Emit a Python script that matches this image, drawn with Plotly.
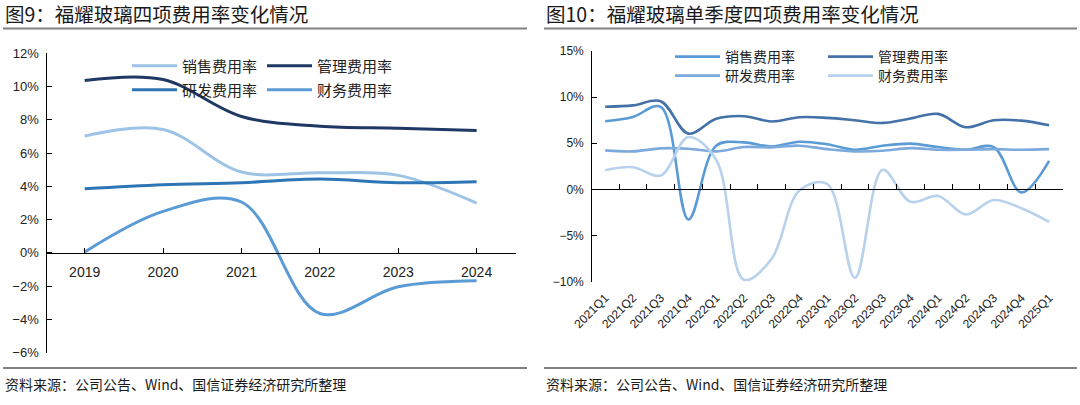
import plotly.graph_objects as go

# ---------------- data ----------------
years = ["2019", "2020", "2021", "2022", "2023", "2024"]
a_sales = [7.02, 7.42, 4.86, 4.82, 4.66, 3.00]
a_admin = [10.36, 10.42, 8.20, 7.62, 7.50, 7.36]
a_rd = [3.86, 4.10, 4.22, 4.44, 4.22, 4.28]
a_fin = [0.06, 2.50, 3.06, -3.64, -2.04, -1.68]

quarters = ["2021Q1", "2021Q2", "2021Q3", "2021Q4", "2022Q1", "2022Q2", "2022Q3",
            "2022Q4", "2023Q1", "2023Q2", "2023Q3", "2023Q4", "2024Q1", "2024Q2",
            "2024Q3", "2024Q4", "2025Q1"]
q_sales = [7.38, 7.85, 8.95, -3.27, 4.73, 5.09, 4.65, 5.16, 4.88, 4.29, 4.73, 4.95,
           4.58, 4.29, 4.58, -0.33, 3.09]
q_admin = [8.95, 9.10, 9.56, 6.04, 7.64, 7.93, 7.35, 7.82, 7.75, 7.49, 7.20, 7.67,
           8.18, 6.73, 7.49, 7.45, 6.95]
q_rd = [4.22, 4.11, 4.44, 4.40, 4.11, 4.58, 4.55, 4.73, 4.36, 4.11, 4.18, 4.47,
        4.29, 4.29, 4.36, 4.29, 4.36]
q_fin = [2.07, 2.40, 1.49, 5.67, 3.20, -9.82, -7.53, -0.12, 0.58, -9.60, 2.11, -1.35,
         -0.73, -2.73, -1.16, -2.05, -3.53]

names = ["销售费用率", "管理费用率", "研发费用率", "财务费用率"]
title_left = "图9：福耀玻璃四项费用率变化情况"
title_right = "图10：福耀玻璃单季度四项费用率变化情况"
source = "资料来源：公司公告、Wind、国信证券经济研究所整理"

# ---------------- styling ----------------
W, H = 1080, 405
def px(x):
    return x / W
def py(y):
    return 1 - y / H

CJK = "Noto Sans CJK SC"
NUM = "Liberation Sans"
left_colors = ["#9DC3E6", "#1F3864", "#2E75B6", "#5B9BD5"]
right_colors = ["#5B9BD5", "#4472A8", "#7DAADC", "#B8D1EC"]

fig = go.Figure()

left_series = [a_sales, a_admin, a_rd, a_fin]
right_series = [q_sales, q_admin, q_rd, q_fin]

# legend positions: (line start x, row y)
left_leg_pos = [(133, 66), (268, 66), (133, 90), (268, 90)]
right_leg_pos = [(676, 57), (829, 57), (676, 76), (829, 76)]

for i, (vals, col) in enumerate(zip(left_series, left_colors)):
    fig.add_trace(go.Scatter(x=years, y=vals, name=names[i], mode="lines",
                             line=dict(color=col, width=3, shape="spline", smoothing=1.0),
                             xaxis="x", yaxis="y", legend=f"legend{i+1}" if i else "legend"))
for i, (vals, col) in enumerate(zip(right_series, right_colors)):
    fig.add_trace(go.Scatter(x=quarters, y=vals, name=names[i], mode="lines",
                             line=dict(color=col, width=2.6, shape="spline", smoothing=1.0),
                             xaxis="x2", yaxis="y2", legend=f"legend{i+5}"))
# carrier for the lower category labels of the right chart
fig.add_trace(go.Scatter(x=quarters, y=q_rd, mode="markers", marker=dict(opacity=0),
                         xaxis="x3", yaxis="y2", showlegend=False, hoverinfo="skip"))

legends = {}
for i, (lx, ly) in enumerate(left_leg_pos + right_leg_pos):
    key = "legend" if i == 0 else f"legend{i+1}"
    fs = 15 if i < 4 else 14
    legends[key] = dict(x=px(lx - 6), y=py(ly), xanchor="left", yanchor="middle",
                        bgcolor="rgba(0,0,0,0)", borderwidth=0, itemwidth=45,
                        font=dict(family=CJK, size=fs, color="#222222"),
                        tracegroupgap=0)

axis_common = dict(showgrid=False, zeroline=False, showline=True, linecolor="#000000",
                   linewidth=1.3, ticks="inside", ticklen=5, tickcolor="#000000",
                   tickwidth=1.3, fixedrange=True, automargin=False)

L0, L1 = 45.5, 515.8
R0, R1 = 591.3, 1063
fig.update_layout(
    width=W, height=H, margin=dict(l=0, r=0, t=0, b=0, pad=0, autoexpand=False),
    autosize=False,
    paper_bgcolor="white", plot_bgcolor="white",
    xaxis=dict(domain=[px(L0), px(L1)], type="category", range=[-0.5, 5.5],
               anchor="free", position=py(252.7), ticklabelstandoff=6,
               tickfont=dict(family=NUM, size=14, color="#222222"), **axis_common),
    yaxis=dict(domain=[py(352.7), py(53.3)], range=[-6, 12], dtick=2, ticksuffix="%",
               anchor="free", position=px(L0), ticklabelstandoff=4,
               tickfont=dict(family=NUM, size=13, color="#222222"), **axis_common),
    xaxis2=dict(domain=[px(R0), px(R1)], type="category", range=[-0.5, 16.5],
                anchor="free", position=py(189.3), tickson="boundaries",
                showticklabels=False, **axis_common),
    xaxis3=dict(type="category", range=[-0.5, 16.5], overlaying="x2",
                anchor="free", position=py(281.5), showline=False, showgrid=False,
                zeroline=False, ticks="", tickangle=-45, ticklabelstandoff=6,
                automargin=False,
                tickfont=dict(family=NUM, size=12, color="#222222"), fixedrange=True),
    yaxis2=dict(domain=[py(281.5), py(51)], range=[-10, 15], dtick=5, ticksuffix="%",
                anchor="free", position=px(R0), ticklabelstandoff=5,
                tickfont=dict(family=NUM, size=12, color="#222222"), **axis_common),
    **legends,
)

# titles
fig.add_annotation(text=title_left, x=px(3), y=py(14), xref="paper", yref="paper",
                   xanchor="left", yanchor="middle", showarrow=False,
                   font=dict(family=CJK, size=19.5, color="#1a1a1a"))
fig.add_annotation(text=title_right, x=px(544), y=py(14), xref="paper", yref="paper",
                   xanchor="left", yanchor="middle", showarrow=False,
                   font=dict(family=CJK, size=19.5, color="#1a1a1a"))
# footers
for x0 in (3, 544):
    fig.add_annotation(text=source, x=px(x0), y=py(384), xref="paper", yref="paper",
                       xanchor="left", yanchor="middle", showarrow=False,
                       font=dict(family=CJK, size=14, color="#1a1a1a"))

# separator rules
for (x0, x1) in ((3, 527), (544, 1077)):
    for yy in (28.5, 368):
        fig.add_shape(type="line", xref="paper", yref="paper",
                      x0=px(x0), x1=px(x1), y0=py(yy), y1=py(yy),
                      line=dict(color="#808080", width=2))

fig.write_html("out.html", config={"displayModeBar": False},
               post_script="document.body.style.margin='0';document.body.style.overflow='hidden';")
